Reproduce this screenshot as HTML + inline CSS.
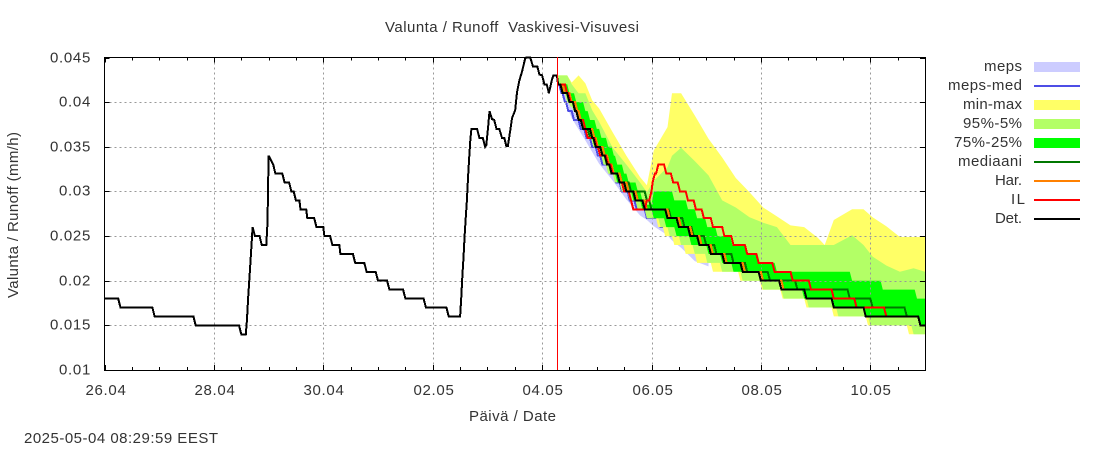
<!DOCTYPE html>
<html>
<head>
<meta charset="utf-8">
<title>Valunta / Runoff Vaskivesi-Visuvesi</title>
<style>
html,body{margin:0;padding:0;background:#fff;}
svg{display:block;}
text{font-family:"Liberation Sans",sans-serif;font-size:15px;fill:#333;}
</style>
</head>
<body>
<svg id="chart" xmlns="http://www.w3.org/2000/svg" width="1100" height="450" viewBox="0 0 1100 450">
<rect x="0" y="0" width="1100" height="450" fill="#ffffff"/>
<g id="bands"></g>
<g id="grid"></g>
<g id="lines"></g>
<g id="axes"></g>
<text x="385" y="32" textLength="254" lengthAdjust="spacing" xml:space="preserve">Valunta / Runoff  Vaskivesi-Visuvesi</text>
<text transform="translate(18,298) rotate(-90)" x="0" y="0" textLength="166" lengthAdjust="spacing">Valunta / Runoff (mm/h)</text>
<text x="469" y="421" textLength="87" lengthAdjust="spacing">Päivä / Date</text>
<text x="24" y="443" textLength="194" lengthAdjust="spacing">2025-05-04 08:29:59 EEST</text>
<g>
  <g><text x="984" y="71" textLength="38" lengthAdjust="spacing">meps</text><rect x="1034" y="62" width="46" height="10" fill="#ccccff"/></g>
  <g><text x="948" y="90" textLength="74" lengthAdjust="spacing">meps-med</text><rect x="1034" y="85" width="46" height="2" fill="#4d4de6"/></g>
  <g><text x="963" y="109" textLength="59" lengthAdjust="spacing">min-max</text><rect x="1034" y="100" width="46" height="10" fill="#ffff66"/></g>
  <g><text x="963" y="128" textLength="59" lengthAdjust="spacing">95%-5%</text><rect x="1034" y="119" width="46" height="10" fill="#b3ff66"/></g>
  <g><text x="954" y="147" textLength="68" lengthAdjust="spacing">75%-25%</text><rect x="1034" y="138" width="46" height="10" fill="#00ff00"/></g>
  <g><text x="958" y="166" textLength="64" lengthAdjust="spacing">mediaani</text><rect x="1034" y="161" width="46" height="2" fill="#007700"/></g>
  <g><text x="995" y="185" textLength="27" lengthAdjust="spacing">Har.</text><rect x="1034" y="180" width="46" height="2" fill="#ff8000"/></g>
  <g><text x="1011" y="204" letter-spacing="1.5">IL</text><rect x="1034" y="199" width="46" height="2" fill="#ff0000"/></g>
  <g><text x="995" y="223" textLength="27" lengthAdjust="spacing">Det.</text><rect x="1034" y="218" width="46" height="2" fill="#000000"/></g>
</g>
</svg>
<script>
// Tick labels
const yTickValues = [0.01, 0.015, 0.02, 0.025, 0.03, 0.035, 0.04, 0.045];
const yTickLabels = ['0.01', '0.015', '0.02', '0.025', '0.03', '0.035', '0.04', '0.045'];
const xTickHours = [0, 48, 96, 144, 192, 240, 288, 336];
const xTickLabels = ['26.04', '28.04', '30.04', '02.05', '04.05', '06.05', '08.05', '10.05'];
const xMinorHours = [12, 24, 36, 60, 72, 84, 108, 120, 132, 156, 168, 180, 204, 216, 228, 252, 264, 276, 300, 312, 324, 348];
const analysisHour = 198.9;

// Upper band edges (hours since 26.04 00:00)
const bandHours = [199,203,205,208,211,214,217,223,229,235,238,241,247,249,253,259,265,271,277,283,289,295,301,307,313,316,320,328,333,337,343,349,355,360];
const maxValues = [.0430,.0430,.0422,.0430,.0421,.0402,.0393,.0366,.0340,.0316,.0307,.0346,.0372,.0410,.0410,.0385,.0359,.0338,.0315,.0299,.0282,.0272,.0262,.0260,.0248,.0240,.0268,.0280,.0280,.0271,.0261,.0249,.0249,.0249];
const p95Values = [.0430,.0430,.0420,.0410,.0410,.0391,.0378,.0349,.0330,.0310,.0299,.0312,.0327,.0340,.0349,.0334,.0318,.0290,.0282,.0271,.0265,.0260,.0240,.0240,.0240,.0240,.0240,.0251,.0240,.0227,.0217,.0210,.0214,.0210];

// Lower band edges: hour at which each level is reached, and the level
const minHours = [199,201,203,204.5,206,207.5,209.5,212,214.5,217,219,221,224,227,230.5,234,238,243,246,250,255,260,267,279,288.5,297.5,308,320,335,353];
const minLevels = [.042,.041,.040,.0395,.039,.038,.037,.036,.035,.034,.033,.032,.031,.030,.029,.028,.027,.026,.025,.024,.023,.022,.021,.020,.019,.018,.017,.016,.015,.014];
const p5Hours = [199,201,203,204.5,206,207.5,209.5,212,214.5,217,219,221,224,227,230.5,234,238,244,248,253,259,264.5,271,280,289,298,309,322,336,355];
const p5Levels = [.042,.041,.040,.0395,.039,.038,.037,.036,.035,.034,.033,.032,.031,.030,.029,.028,.027,.026,.025,.024,.023,.022,.021,.020,.019,.018,.017,.016,.015,.014];

// 75% and 25% edges: hour at which each level is reached, and the level
const p75Hours = [199,204,207,211,213,216,218,221,223.5,225,228,230,234,236,238,241,250,256,260,264.5,269,275.5,282,287.5,295,328,341.5,356.5];
const p75Levels = [.042,.041,.040,.039,.038,.037,.036,.035,.034,.033,.032,.031,.030,.029,.0285,.030,.029,.028,.027,.026,.025,.024,.023,.022,.021,.020,.019,.018];
const p25Hours = [199,201,203.5,206,208,210,213,215,218,220,222,225,228,232,236,241,246.5,251,257.5,265,271,276,289,298,307,320,334,358];
const p25Levels = [.042,.041,.040,.039,.038,.037,.036,.035,.034,.033,.032,.031,.030,.029,.028,.027,.026,.025,.024,.023,.022,.021,.020,.019,.018,.017,.016,.015];

// MEPS ensemble band
const mepsHours = [199,205,211,217,223,229,235,238,241,247,249,253,259,265];
const mepsUpper = [.0425,.0410,.0395,.0370,.0345,.0320,.0300,.0290,.0285,.0275,.0270,.0260,.0250,.0235];
const mepsLower = [.0420,.0382,.0357,.0331,.0312,.0291,.0273,.0268,.0261,.0251,.0245,.0237,.0222,.0216];

// Step series: hour at which each new level is reached, and the level
const mepsMedHours = [199,200.5,202,203.5,206,209,211.5,214,216.5,218.5,222,224.5,227,230.5,233.5,238,244,250,256,262];
const mepsMedValues = [.042,.041,.040,.039,.038,.037,.036,.035,.034,.033,.032,.031,.030,.029,.028,.027,.026,.025,.024,.023];
const medianHours = [199,201.5,204.5,207,209,211,213,216,218.5,221,223.5,227,231,238,240,248.5,254.5,258.5,264,268.5,276,282,292,304,327,337,352,358];
const medianValues = [.042,.041,.040,.039,.038,.037,.036,.035,.034,.033,.032,.031,.030,.029,.028,.027,.026,.025,.024,.023,.022,.021,.020,.019,.018,.017,.016,.015];
const harHours = [199,202,205,207.5,209,211,215,216.5,219.5,221.5,223.5,227,230,234,238,248,253,258,262,267,273,281,289,298,308,320,334,358];
const harValues = [.042,.041,.040,.039,.038,.037,.036,.035,.034,.033,.032,.031,.030,.029,.028,.027,.026,.025,.024,.023,.022,.021,.020,.019,.018,.017,.016,.015];
const ilHours = [199,203,204.5,206.5,208,211,212,216,217.5,221,223,226,228,231,232,238,240,240.5,241.5,243,246.5,249.5,252.5,256,259.5,263,267,272,276,282,287,294,302,310,320,330,343,358];
const ilValues = [.042,.041,.040,.039,.038,.037,.036,.035,.034,.033,.032,.031,.030,.029,.028,.029,.030,.031,.032,.033,.032,.031,.030,.029,.028,.027,.026,.025,.024,.023,.022,.021,.020,.019,.018,.017,.016,.015];
const detForecastHours = [199,201,204,206.5,208,210,214,215.5,218.5,220.5,222.5,226,229,233,237,247,252,257,261,266,272,280,288,297,308,320,334,358];
const detForecastValues = [.042,.041,.040,.039,.038,.037,.036,.035,.034,.033,.032,.031,.030,.029,.028,.027,.026,.025,.024,.023,.022,.021,.020,.019,.018,.017,.016,.015];

// Observed / deterministic history
const detHistoryHours = [0,6,7,21,22,39,40,59,60,62,62.5,63,64,65,66,68,69,71,71.5,72,74,75,78,79,81,82,83,84,85.5,86,88.5,89,92,93,96,96.5,99,100,103,103.5,109,110,114,115,119,120,124,125,131,132,140,141,150,151,156,156.5,157,157.5,158,158.5,159,159.5,160,160.5,161,163.5,164.5,166,167,167.5,168.3,168.9,170,171,172,173.2,174.4,175.4,176.3,177,178,178.8,180.2,181,182,183.2,184.6,185,186.8,188,189.9,190.8,192,193,194,195,196.3,196.9,198.5,199];
const detHistoryValues = [.018,.018,.017,.017,.016,.016,.015,.015,.014,.014,.0155,.018,.022,.026,.025,.025,.024,.024,.0265,.034,.033,.032,.032,.031,.031,.030,.030,.029,.029,.028,.028,.027,.027,.026,.026,.025,.025,.024,.024,.023,.023,.022,.022,.021,.021,.020,.020,.019,.019,.018,.018,.017,.017,.016,.016,.018,.0204,.0226,.025,.027,.029,.0315,.0338,.0357,.037,.037,.036,.036,.035,.0352,.0372,.039,.0381,.038,.037,.037,.036,.036,.0351,.0351,.0368,.0382,.0391,.0411,.0424,.0434,.0449,.045,.045,.044,.044,.0431,.043,.042,.042,.041,.0425,.043,.043,.042];

const NS = 'http://www.w3.org/2000/svg';
const PLOT_LEFT = 104.5, PLOT_RIGHT = 925, PLOT_TOP = 57.5, PLOT_BOTTOM = 370;
const HOURS_TOTAL = 360, V_MIN = 0.01, V_MAX = 0.045;
function xOf(h) { return PLOT_LEFT + h * (PLOT_RIGHT - PLOT_LEFT) / HOURS_TOTAL; }
function yOf(v) { return PLOT_BOTTOM - (v - V_MIN) * (PLOT_BOTTOM - PLOT_TOP) / (V_MAX - V_MIN); }
function make(tag, parent) { const el = document.createElementNS(NS, tag); parent.appendChild(el); return el; }
function plainPoints(hours, values) {
  return hours.map(function (h, i) { return xOf(h).toFixed(1) + ',' + yOf(values[i]).toFixed(1); }).join(' ');
}
function stepPoints(hours, values) {
  const pts = [];
  hours.forEach(function (h, i) {
    pts.push(xOf(h).toFixed(1) + ',' + yOf(values[i]).toFixed(1));
    const next = i + 1 < hours.length ? hours[i + 1] : null;
    if (next === null) pts.push(xOf(HOURS_TOTAL).toFixed(1) + ',' + yOf(values[i]).toFixed(1));
    else if (next - 1 > h) pts.push(xOf(next - 1).toFixed(1) + ',' + yOf(values[i]).toFixed(1));
  });
  return pts.join(' ');
}
function joinEdges(upperPoints, lowerPoints) {
  return upperPoints.split(' ').concat(lowerPoints.split(' ').reverse()).join(' ');
}
function styleLine(el, color) {
  el.setAttribute('fill', 'none');
  el.setAttribute('stroke', color);
  el.setAttribute('stroke-width', '2');
  el.setAttribute('stroke-linejoin', 'miter');
  el.setAttribute('shape-rendering', 'crispEdges');
}
const bandsG = document.getElementById('bands');
const gridG = document.getElementById('grid');
const linesG = document.getElementById('lines');
const axesG = document.getElementById('axes');

// Bands
const mepsBand = make('polygon', bandsG);


mepsBand.setAttribute('points', joinEdges(plainPoints(mepsHours, mepsUpper), plainPoints(mepsHours, mepsLower)));
mepsBand.setAttribute('fill', '#ccccff');

const mepsMedLine = make('polyline', bandsG);


mepsMedLine.setAttribute('points', stepPoints(mepsMedHours, mepsMedValues).split(' ').slice(0, -1).join(' '));
styleLine(mepsMedLine, '#4d4de6');

const minMaxBand = make('polygon', bandsG);


minMaxBand.setAttribute('points', joinEdges(plainPoints(bandHours, maxValues), stepPoints(minHours, minLevels)));
minMaxBand.setAttribute('fill', '#ffff66');

const band95 = make('polygon', bandsG);


band95.setAttribute('points', joinEdges(plainPoints(bandHours, p95Values), stepPoints(p5Hours, p5Levels)));
band95.setAttribute('fill', '#b3ff66');

const band75 = make('polygon', bandsG);


band75.setAttribute('points', joinEdges(stepPoints(p75Hours, p75Levels), stepPoints(p25Hours, p25Levels)));
band75.setAttribute('fill', '#00ff00');

// Grid
xTickHours.forEach(function (h) {
  if (h === 0) return;
  const g = make('line', gridG);
  
  
  const gx = Math.round(xOf(h)) + 0.5;
  g.setAttribute('x1', gx); g.setAttribute('x2', gx);
  g.setAttribute('y1', PLOT_TOP); g.setAttribute('y2', PLOT_BOTTOM);
  g.setAttribute('stroke', '#999999');
  g.setAttribute('stroke-dasharray', '2 3');
});
yTickValues.forEach(function (v) {
  if (v === V_MIN || v === V_MAX) return;
  const g = make('line', gridG);
  
  
  const gy = Math.round(yOf(v)) + 0.5;
  g.setAttribute('y1', gy); g.setAttribute('y2', gy);
  g.setAttribute('x1', PLOT_LEFT); g.setAttribute('x2', PLOT_RIGHT);
  g.setAttribute('stroke', '#999999');
  g.setAttribute('stroke-dasharray', '2 3');
});

// Lines
const medianLine = make('polyline', linesG);


medianLine.setAttribute('points', stepPoints(medianHours, medianValues));
styleLine(medianLine, '#007700');

const harLine = make('polyline', linesG);


harLine.setAttribute('points', stepPoints(harHours, harValues));
styleLine(harLine, '#ff8000');

const ilLine = make('polyline', linesG);


ilLine.setAttribute('points', stepPoints(ilHours, ilValues));
styleLine(ilLine, '#ff0000');

const detHistory = make('polyline', linesG);


detHistory.setAttribute('points', plainPoints(detHistoryHours, detHistoryValues));
styleLine(detHistory, '#000000');

const detForecast = make('polyline', linesG);


detForecast.setAttribute('points', stepPoints(detForecastHours, detForecastValues));
styleLine(detForecast, '#000000');

// Axes
const frame = make('rect', axesG);


frame.setAttribute('x', PLOT_LEFT); frame.setAttribute('y', PLOT_TOP);
frame.setAttribute('width', PLOT_RIGHT - PLOT_LEFT + 0.5);
frame.setAttribute('height', PLOT_BOTTOM - PLOT_TOP + 0.5);
frame.setAttribute('fill', 'none');
frame.setAttribute('stroke', '#000');

function addTick(name, x1, y1, x2, y2) {
  const t = make('line', axesG);
  
  
  t.setAttribute('x1', x1); t.setAttribute('y1', y1);
  t.setAttribute('x2', x2); t.setAttribute('y2', y2);
  t.setAttribute('stroke', '#000');
}
yTickValues.forEach(function (v, i) {
  const ty = Math.round(yOf(v)) + 0.5;
  addTick('y-tick', PLOT_LEFT, ty, PLOT_LEFT + 5, ty);
  addTick('y-tick-right', PLOT_RIGHT - 5, ty, PLOT_RIGHT, ty);
  const label = make('text', axesG);
  
  
  label.setAttribute('x', '91');
  label.setAttribute('y', ty + 4);
  label.setAttribute('text-anchor', 'end');
  label.setAttribute('letter-spacing', '0.7');
  label.textContent = yTickLabels[i];
});
xTickHours.forEach(function (h, i) {
  const tx = Math.round(xOf(h)) + 0.5;
  addTick('x-tick', tx, PLOT_BOTTOM, tx, PLOT_BOTTOM - 5);
  addTick('x-tick-top', tx, PLOT_TOP, tx, PLOT_TOP + 5);
  const label = make('text', axesG);
  
  
  label.setAttribute('x', tx + 0.5);
  label.setAttribute('y', '395');
  label.setAttribute('text-anchor', 'middle');
  label.setAttribute('letter-spacing', '0.7');
  label.textContent = xTickLabels[i];
});
xMinorHours.forEach(function (h) {
  const tx = Math.round(xOf(h)) + 0.5;
  addTick('x-minor-tick', tx, PLOT_BOTTOM, tx, PLOT_BOTTOM - 3);
  addTick('x-minor-tick-top', tx, PLOT_TOP, tx, PLOT_TOP + 3);
});

// Analysis-time marker, drawn last so nothing covers it
const analysisMarker = make('rect', axesG);


analysisMarker.setAttribute('x', Math.floor(xOf(analysisHour)));
analysisMarker.setAttribute('y', '57');
analysisMarker.setAttribute('width', '1');
analysisMarker.setAttribute('height', '313');
analysisMarker.setAttribute('fill', '#ff0000');
analysisMarker.setAttribute('shape-rendering', 'crispEdges');
</script>
</body>
</html>
